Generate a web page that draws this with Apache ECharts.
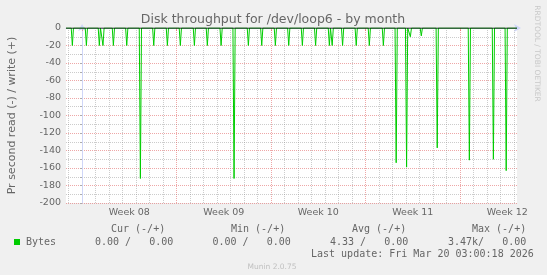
<!DOCTYPE html>
<html><head><meta charset="utf-8">
<script src="https://cdn.jsdelivr.net/npm/echarts@6/dist/echarts.min.js"></script>
<style>html,body{margin:0;padding:0;background:#f0f0f0}#c{width:547px;height:275px}</style>
</head><body><div id="c"></div><script>
// x values are days since Mon 16 Feb 2026 00:00 (start of ISO week 08)
const xStart = -1.19;
const xEnd = 32.22;
const stepDays = 1 / 12; // 2-hour RRD resolution
const weekStarts = [0, 7, 14, 21, 28];
const weekLabelPos = [3.5, 10.5, 17.5, 24.5, 31.5];
const weekLabels = ['Week 08', 'Week 09', 'Week 10', 'Week 11', 'Week 12'];
const dayLines = [-1, 1, 2, 3, 4, 5, 6, 8, 9, 10, 11, 12, 13, 15, 16, 17, 18, 19, 20, 22, 23, 24, 25, 26, 27, 29, 30, 31, 32];

// Bytes read per second (drawn negative)
const spikeDays = [-0.72, 0.32, 1.28, 1.55, 2.32, 3.31, 4.32, 5.31, 6.32, 7.28, 8.32, 9.28, 10.30, 11.26, 12.32, 13.31,
  14.32, 15.31, 16.32, 17.30, 18.32, 18.53, 19.30, 20.31, 21.28, 22.32, 23.27, 24.04, 24.32, 25.13, 26.31, 28.69, 30.47, 31.42];
const spikeValues = [-20, -20, -20, -20, -20, -20, -172, -20, -20, -20, -20, -20, -20, -172, -20, -20,
  -20, -20, -20, -20, -20, -20, -20, -20, -20, -20, -154, -159, -10, -9, -137, -151, -150, -163];

const legendHeaders = ['Cur (-/+)', 'Min (-/+)', 'Avg (-/+)', 'Max (-/+)'];
const legendValues = ['0.00 /   0.00', '0.00 /   0.00', '4.33 /   0.00', '3.47k/   0.00'];
const seriesName = 'Bytes';
const lastUpdate = 'Last update: Fri Mar 20 03:00:18 2026';

const pts = [[xStart, 0]];
spikeDays.forEach((d, i) => { pts.push([d - stepDays, 0], [d, spikeValues[i]], [d + stepDays, 0]); });
pts.push([xEnd, 0]);

const GRID = 'rgba(143,143,143,0.45)';
const MGRID = 'rgba(222,79,79,0.5)';
const AXIS = '#CFD6F8';
const FONT = '#666666';
const SANS = '"DejaVu Sans", sans-serif';
const MONO = '"DejaVu Sans Mono", monospace';

const chart = echarts.init(document.getElementById('c'), null, {renderer: 'canvas'});
const hdrX = [111, 231, 352, 472];
const valX = [95, 212.5, 330, 448];
const graphics = [
  {type: 'text', x: 273, y: 20, style: {text: 'Disk throughput for /dev/loop6 - by month', font: '12.5px ' + SANS, fill: FONT, align: 'center', verticalAlign: 'middle'}},
  {type: 'text', x: 537, y: 53.5, rotation: -Math.PI / 2, style: {text: 'RRDTOOL / TOBI OETIKER', font: '7.5px ' + SANS, fill: '#c8c8c8', align: 'center', verticalAlign: 'middle'}},
  {type: 'rect', shape: {x: 14, y: 239, width: 6, height: 6}, style: {fill: '#00cc00'}},
  {type: 'text', x: 26, y: 242, style: {text: seriesName, font: '10px ' + MONO, fill: FONT, align: 'left', verticalAlign: 'middle'}},
  {type: 'text', x: 311, y: 254.5, style: {text: lastUpdate, font: '10px ' + MONO, fill: FONT, align: 'left', verticalAlign: 'middle'}},
  {type: 'text', x: 272, y: 267, style: {text: 'Munin 2.0.75', font: '7.5px ' + SANS, fill: '#c0c0c0', align: 'center', verticalAlign: 'middle'}}
];
legendHeaders.forEach((h, i) => graphics.push({type: 'text', x: hdrX[i], y: 229, style: {text: h, font: '10px ' + MONO, fill: FONT, align: 'left', verticalAlign: 'middle'}}));
legendValues.forEach((v, i) => graphics.push({type: 'text', x: valX[i], y: 242, style: {text: v, font: '10px ' + MONO, fill: FONT, align: 'left', verticalAlign: 'middle'}}));

const hiddenX = (vals, color) => ({
  type: 'value', min: xStart, max: xEnd, position: 'bottom',
  axisLine: {show: false}, axisLabel: {show: false},
  axisTick: {show: false, customValues: vals},
  splitLine: {show: true, lineStyle: {color: color, type: [1, 1], width: 1}}
});

chart.setOption({
  backgroundColor: '#f0f0f0',
  animation: false,
  grid: {left: 66, right: 30, top: 28, bottom: 72, show: true, backgroundColor: '#ffffff', borderWidth: 0, containLabel: false, outerBoundsMode: 'none'},
  xAxis: [{
    type: 'value', min: xStart, max: xEnd,
    axisLine: {show: true, lineStyle: {color: AXIS, width: 1}, symbol: ['none', 'arrow'], symbolSize: [6, 7], symbolOffset: [0, 4]},
    axisTick: {show: true, customValues: weekStarts, length: 3, inside: false, lineStyle: {color: MGRID}},
    axisLabel: {show: true, customValues: weekLabelPos, formatter: v => weekLabels[weekLabelPos.indexOf(v)] || '', fontFamily: SANS, fontSize: 9.5, color: FONT, margin: 5},
    splitLine: {show: false}
  }, hiddenX(dayLines, GRID), hiddenX(weekStarts, MGRID)],
  yAxis: {
    type: 'value', min: -200, max: 0, interval: 20,
    name: 'Pr second read (-) / write (+)', nameLocation: 'middle', nameGap: 48,
    nameTextStyle: {fontFamily: SANS, fontSize: 11, color: FONT},
    axisLine: {show: true, lineStyle: {color: AXIS, width: 1}, symbol: ['none', 'arrow'], symbolSize: [6, 7], symbolOffset: [0, 4]},
    axisTick: {show: true, length: 2, lineStyle: {color: '#aaaaaa'}},
    minorTick: {show: true, splitNumber: 2, length: 2, lineStyle: {color: '#aaaaaa'}},
    axisLabel: {fontFamily: SANS, fontSize: 9.5, color: FONT, margin: 5},
    splitLine: {show: true, lineStyle: {color: MGRID, type: [1, 1], width: 1}},
    minorSplitLine: {show: true, lineStyle: {color: GRID, type: [1, 1], width: 1}}
  },
  series: [
    {
      name: seriesName, type: 'line', data: pts, symbol: 'none', z: 3,
      lineStyle: {color: '#00cc00', width: 1}
    },
    {
      type: 'line', data: [[xStart, 0], [xEnd, 0]], symbol: 'none', z: 5, silent: true,
      lineStyle: {color: '#000000', width: 1}
    }
  ],
  graphic: graphics
});
</script></body></html>
